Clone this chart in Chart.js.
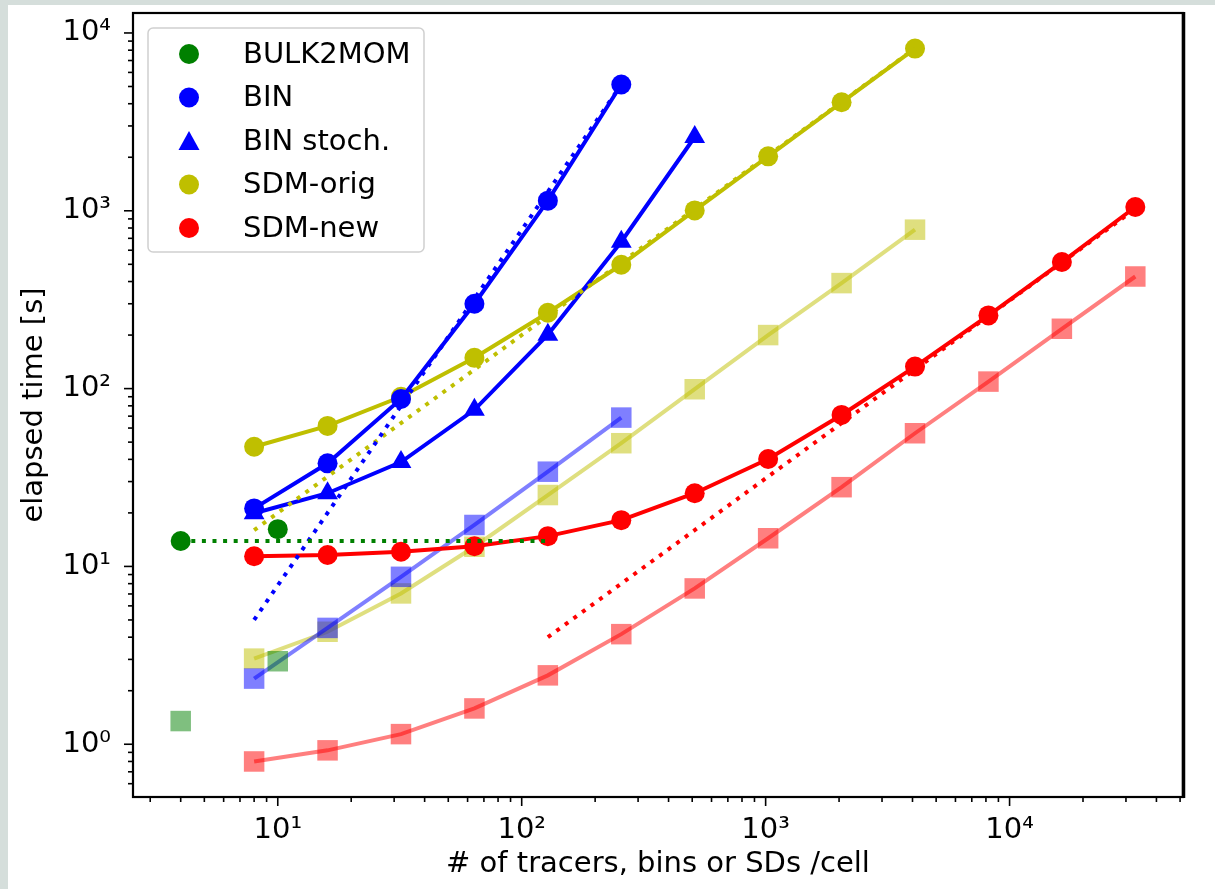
<!DOCTYPE html>
<html>
<head>
<meta charset="utf-8">
<title>elapsed time vs tracers</title>
<script src="https://cdn.jsdelivr.net/npm/chart.js@4.4.1/dist/chart.umd.min.js"></script>
<style>
  html, body { margin: 0; padding: 0; background: #d5dedb; }
  #wrap { position: absolute; left: 8px; top: 5px; width: 1207px; height: 884px; background: #fff; }
</style>
</head>
<body>
<div id="wrap"><canvas id="timingChart"></canvas></div>
<script>
// number of tracers / bins / SDs per cell
const nBulk = [4, 10];
const nBulkRef = [4, 128];
const nBin = [8, 16, 32, 64, 128, 256];
const nStoch = [8, 16, 32, 64, 128, 256, 512];
const nOrig = [8, 16, 32, 64, 128, 256, 512, 1024, 2048, 4096];
const nNew = [8, 16, 32, 64, 128, 256, 512, 1024, 2048, 4096, 8192, 16384, 32768];
const nNewRef = [128, 256, 512, 1024, 2048, 4096, 8192, 16384, 32768];

// elapsed time [s] (full markers)
const bulkTime = [13.9, 16.2];
const binTime = [21.2, 38.0, 87.5, 300, 1140, 5130];
const stochTime = [19.9, 25.8, 38.6, 76, 201, 670, 2600];
const origTime = [47.1, 61.7, 90, 149, 267, 497, 1005, 2024, 4076, 8170];
const newTime = [11.4, 11.6, 12.1, 13.0, 14.8, 18.2, 25.8, 40.2, 71.1, 133, 258, 515, 1050];

// translucent squares
const bulkSq = [1.35, 2.93];
const binSq = [2.34, 4.51, 8.74, 17.1, 34.1, 68.7];
const origSq = [3.03, 4.29, 7.05, 12.9, 25.2, 49.3, 99.2, 200, 392, 783];
const newSq = [0.80, 0.924, 1.14, 1.59, 2.44, 4.16, 7.52, 14.4, 27.9, 56.1, 109.5, 217, 427];

// dotted scaling guides
const bulkRef = [13.9, 13.9];
const binRef = [5, 20, 80, 320, 1280, 5120];
const origRef = [16, 32, 64, 128, 256, 512, 1024, 2048, 4096, 8192];
const newRef = [4, 8, 16, 32, 64, 128, 256, 512, 1024];

// axis limits and decade labels
const xLimits = [2.55, 51400];
const yLimits = [0.505, 12950];
const supers = { '-1': '⁻¹', 0: '⁰', 1: '¹', 2: '²', 3: '³', 4: '⁴', 5: '⁵' };

const GREEN = '#008000', BLUE = '#0000ff', OLIVE = '#bfbf00', RED = '#ff0000';
const FONT = "'DejaVu Sans', sans-serif";

function pts(xs, ys) {
    return xs.map((x, i) => ({ x: x, y: ys[i] }));
}
function fade(hex) {
    const r = parseInt(hex.slice(1, 3), 16), g = parseInt(hex.slice(3, 5), 16), b = parseInt(hex.slice(5, 7), 16);
    return `rgba(${r},${g},${b},0.5)`;
}

// solid line with big markers
function mainSet(label, xs, ys, color, style, line) {
    return {
        label: label, data: pts(xs, ys), order: 1,
        showLine: line, borderColor: color, borderWidth: 4,
        pointStyle: style, pointRadius: style === 'triangle' ? 12 : 10,
        pointBackgroundColor: color, pointBorderWidth: 0
    };
}
// translucent squares with a translucent line
function squareSet(label, xs, ys, color, line) {
    return {
        label: label, data: pts(xs, ys), order: 2,
        showLine: line, borderColor: fade(color), borderWidth: 4,
        pointStyle: 'rect', pointRadius: 14.5,
        pointBackgroundColor: fade(color), pointBorderWidth: 0
    };
}
// dotted guide
function refSet(label, xs, ys, color) {
    return {
        label: label, data: pts(xs, ys), order: 0,
        showLine: true, borderColor: color, borderWidth: 4, borderDash: [4, 6.6],
        pointRadius: 0
    };
}

const datasets = [
    refSet('BULK2MOM ref', nBulkRef, bulkRef, GREEN),
    refSet('BIN ref', nBin, binRef, BLUE),
    refSet('SDM-orig ref', nOrig, origRef, OLIVE),
    refSet('SDM-new ref', nNewRef, newRef, RED),
    mainSet('BULK2MOM', nBulk, bulkTime, GREEN, 'circle', false),
    mainSet('BIN', nBin, binTime, BLUE, 'circle', true),
    mainSet('BIN stoch.', nStoch, stochTime, BLUE, 'triangle', true),
    mainSet('SDM-orig', nOrig, origTime, OLIVE, 'circle', true),
    mainSet('SDM-new', nNew, newTime, RED, 'circle', true),
    squareSet('BULK2MOM sq', nBulk, bulkSq, GREEN, false),
    squareSet('BIN sq', nBin, binSq, BLUE, true),
    squareSet('SDM-orig sq', nOrig, origSq, OLIVE, true),
    squareSet('SDM-new sq', nNew, newSq, RED, true)
];

const legendItems = [
    { text: 'BULK2MOM', color: GREEN, style: 'circle' },
    { text: 'BIN', color: BLUE, style: 'circle' },
    { text: 'BIN stoch.', color: BLUE, style: 'triangle' },
    { text: 'SDM-orig', color: OLIVE, style: 'circle' },
    { text: 'SDM-new', color: RED, style: 'circle' }
];

function isDecade(v) {
    const l = Math.log10(v);
    return Math.abs(l - Math.round(l)) < 1e-9;
}
function decadeLabel(v) {
    if (!isDecade(v)) return '';
    return '10' + supers[Math.round(Math.log10(v))];
}
// 1..9 x 10^k inside the limits
function logTicks(scale) {
    const out = [];
    for (let k = Math.floor(Math.log10(scale.min)); k <= Math.ceil(Math.log10(scale.max)); k++) {
        for (let m = 1; m < 10; m++) {
            const v = parseFloat((m * Math.pow(10, k)).toPrecision(6));
            if (v >= scale.min && v <= scale.max) out.push({ value: v });
        }
    }
    scale.ticks = out;
}

// matplotlib style frame, ticks and legend
const axesDecor = {
    id: 'axesDecor',
    afterDraw(chart) {
        const ctx = chart.ctx;
        const a = chart.chartArea;
        ctx.save();
        ctx.strokeStyle = '#000';
        ctx.lineWidth = 1.6;
        chart.scales.x.ticks.forEach(t => {
            const p = chart.scales.x.getPixelForValue(t.value);
            const len = isDecade(t.value) ? 9 : 5;
            ctx.beginPath();
            ctx.moveTo(p, a.bottom);
            ctx.lineTo(p, a.bottom + len);
            ctx.stroke();
        });
        chart.scales.y.ticks.forEach(t => {
            const p = chart.scales.y.getPixelForValue(t.value);
            const len = isDecade(t.value) ? 9 : 5;
            ctx.beginPath();
            ctx.moveTo(a.left, p);
            ctx.lineTo(a.left - len, p);
            ctx.stroke();
        });
        ctx.lineWidth = 2.2;
        ctx.strokeRect(a.left, a.top, a.right - a.left, a.bottom - a.top);
        ctx.lineWidth = 3.5;
        ctx.beginPath();
        ctx.moveTo(a.right + 0.5, a.top - 1);
        ctx.lineTo(a.right + 0.5, a.bottom + 1);
        ctx.stroke();

        // legend box
        const bx = a.left + 15, by = a.top + 15, bw = 276, bh = 224;
        ctx.beginPath();
        ctx.roundRect(bx, by, bw, bh, 5);
        ctx.fillStyle = 'rgba(255,255,255,0.8)';
        ctx.fill();
        ctx.strokeStyle = '#d0d0d0';
        ctx.lineWidth = 1.5;
        ctx.stroke();
        ctx.font = '29px ' + FONT;
        ctx.textBaseline = 'middle';
        ctx.textAlign = 'left';
        legendItems.forEach((it, i) => {
            const cy = by + 26 + i * 43.5;
            const cx = bx + 41;
            ctx.fillStyle = it.color;
            ctx.beginPath();
            if (it.style === 'triangle') {
                ctx.moveTo(cx, cy - 10);
                ctx.lineTo(cx + 10.5, cy + 9);
                ctx.lineTo(cx - 10.5, cy + 9);
                ctx.closePath();
            } else {
                ctx.arc(cx, cy, 10, 0, Math.PI * 2);
            }
            ctx.fill();
            ctx.fillStyle = '#000';
            ctx.fillText(it.text, bx + 95, cy + 1);
        });
        ctx.restore();
    }
};

const ctx = document.getElementById('timingChart').getContext('2d');
const chart = new Chart(ctx, {
    type: 'scatter',
    data: { datasets: datasets },
    options: {
        responsive: true,
        maintainAspectRatio: false,
        animation: false,
        devicePixelRatio: 1,
        layout: { autoPadding: false, padding: { top: 8, right: 32, left: 0, bottom: 0 } },
        plugins: { legend: { display: false }, tooltip: { enabled: false } },
        elements: { line: { tension: 0 } },
        scales: {
            x: {
                type: 'logarithmic', bounds: 'data',
                min: xLimits[0], max: xLimits[1],
                afterBuildTicks: logTicks,
                afterFit(s) { s.height = 92; s.paddingLeft = 0; s.paddingRight = 0; },
                grid: { display: true, drawOnChartArea: false, drawTicks: true, tickLength: 10, tickColor: 'rgba(0,0,0,0)' },
                border: { display: false },
                ticks: {
                    autoSkip: false, maxRotation: 0, padding: 6, color: '#000',
                    font: { family: FONT, size: 29 },
                    callback: v => decadeLabel(v)
                },
                title: {
                    display: true, text: '# of tracers, bins or SDs /cell', color: '#000',
                    font: { family: FONT, size: 29 }, padding: { top: 0, bottom: 7 }
                }
            },
            y: {
                type: 'logarithmic', bounds: 'data',
                min: yLimits[0], max: yLimits[1],
                afterBuildTicks: logTicks,
                afterFit(s) { s.width = 125; s.paddingTop = 0; s.paddingBottom = 0; },
                grid: { display: true, drawOnChartArea: false, drawTicks: true, tickLength: 10, tickColor: 'rgba(0,0,0,0)' },
                border: { display: false },
                ticks: {
                    autoSkip: false, padding: 12, color: '#000',
                    font: { family: FONT, size: 29 },
                    callback: v => decadeLabel(v)
                },
                title: {
                    display: true, text: 'elapsed time [s]', color: '#000',
                    font: { family: FONT, size: 29 }, padding: { top: 9, bottom: 0 }
                }
            }
        }
    },
    plugins: [axesDecor]
});
</script>
</body>
</html>
